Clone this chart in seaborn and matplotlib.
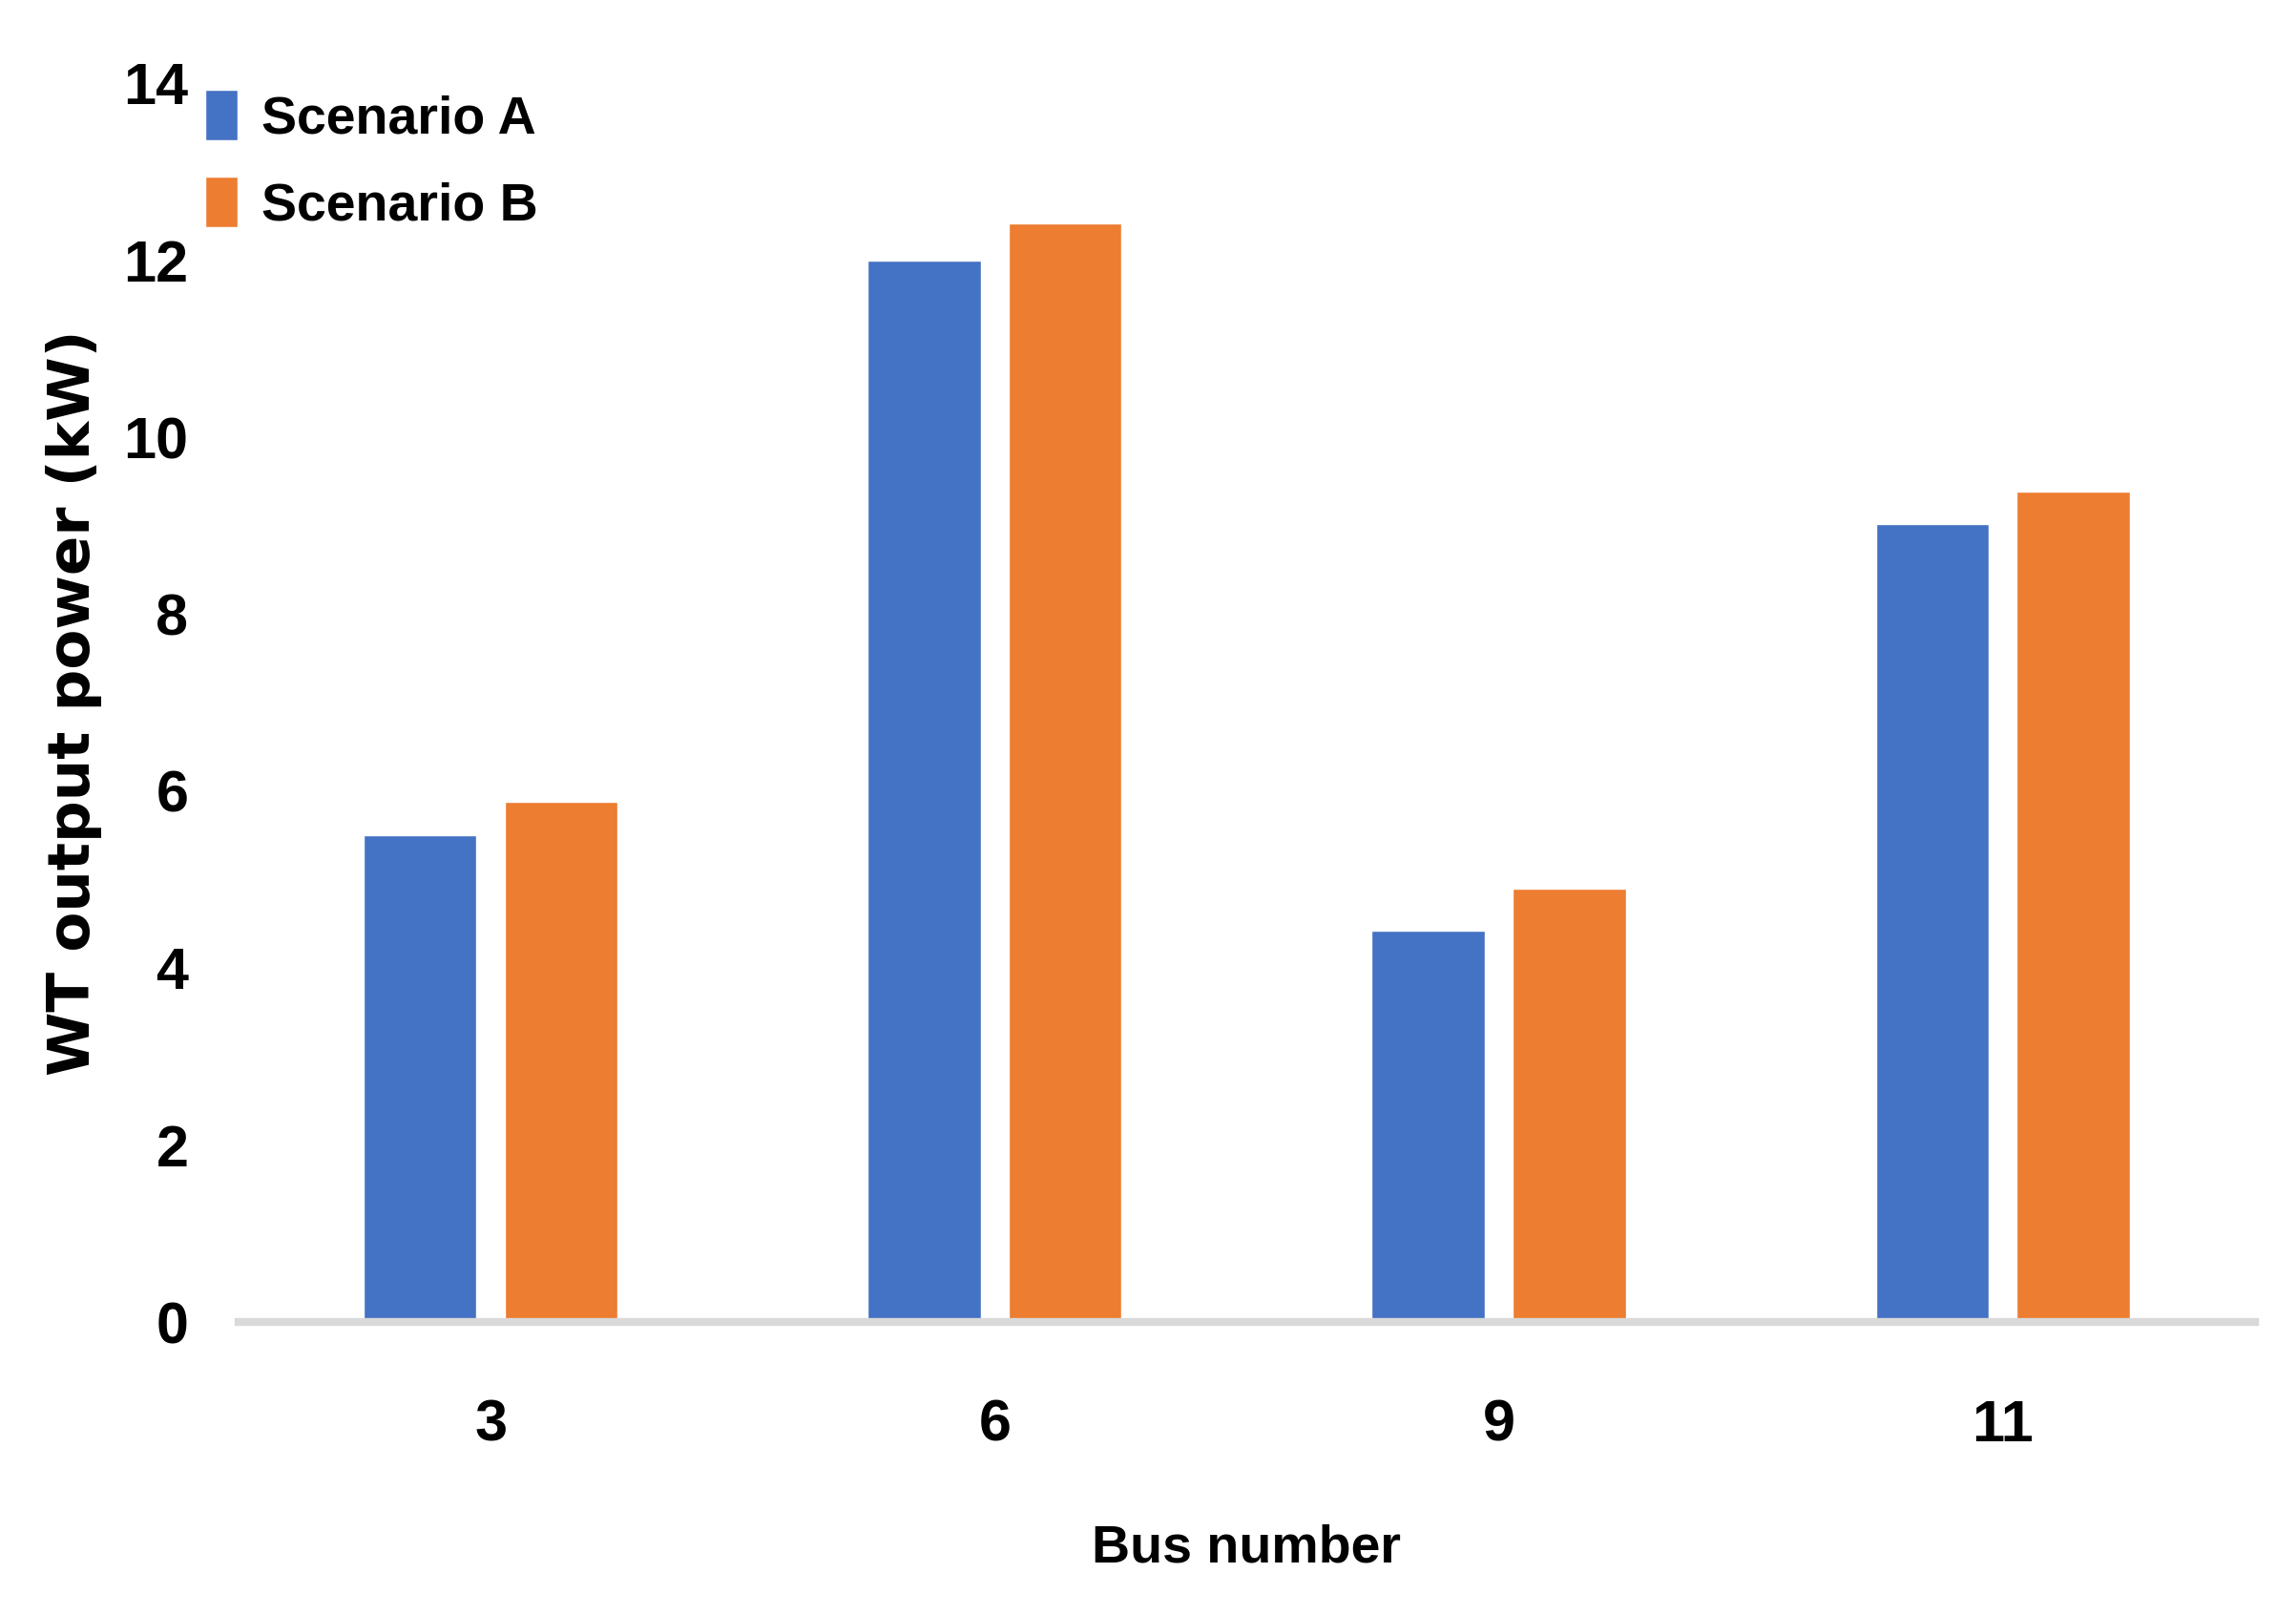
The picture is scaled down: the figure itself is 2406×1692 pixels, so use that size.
import matplotlib
matplotlib.use("Agg")
import matplotlib.pyplot as plt
import pandas as pd
import seaborn as sns

buses = ["3", "6", "9", "11"]
scenario_a = [5.5, 12.0, 4.42, 9.02]
scenario_b = [5.88, 12.42, 4.9, 9.39]
series_names = ["Scenario A", "Scenario B"]
colors = ["#4472C4", "#ED7D31"]

df = pd.DataFrame({
    "bus": buses * 2,
    "power": scenario_a + scenario_b,
    "scenario": [series_names[0]] * len(buses) + [series_names[1]] * len(buses),
})

sns.set_style("white")
plt.rcParams['font.family'] = ['Liberation Sans', 'DejaVu Sans']
plt.rcParams['text.color'] = 'black'
plt.rcParams['xtick.color'] = 'black'
plt.rcParams['ytick.color'] = 'black'
plt.rcParams['axes.labelcolor'] = 'black'

fig = plt.figure(figsize=(24.06, 16.92), dpi=100)
ax = fig.add_axes([0.104, 0.1814, 0.878, 0.767])

sns.barplot(data=df, x="bus", y="power", hue="scenario", palette=colors,
            width=0.56, gap=0.2, saturation=1, ax=ax)

ax.set_ylim(0, 14)
ax.set_xlim(-0.5, 3.5)
ax.set_yticks(range(0, 15, 2))
ax.tick_params(axis='both', length=0, labelsize=44)
ax.tick_params(axis='y', pad=38)
ax.tick_params(axis='x', pad=58)
for lab in ax.get_xticklabels() + ax.get_yticklabels():
    lab.set_fontweight('bold')

for s in ['top', 'right', 'left']:
    ax.spines[s].set_visible(False)
ax.spines['bottom'].set_color('#d9d9d9')
ax.spines['bottom'].set_linewidth(6)

ax.set_xlabel("Bus number", fontsize=40, fontweight='bold', labelpad=53)
ax.set_ylabel("WT output power (kW)", fontsize=44, fontweight='bold',
              family=['DejaVu Sans'], labelpad=16)

leg = ax.legend(loc='upper left', bbox_to_anchor=(-0.027, 1.012), frameon=False,
                fontsize=40, handlelength=0.6, handleheight=1.1,
                handletextpad=0.45, labelspacing=0.6, borderaxespad=0)
for t in leg.get_texts():
    t.set_fontweight('bold')

fig.savefig("out.png", dpi=100)
